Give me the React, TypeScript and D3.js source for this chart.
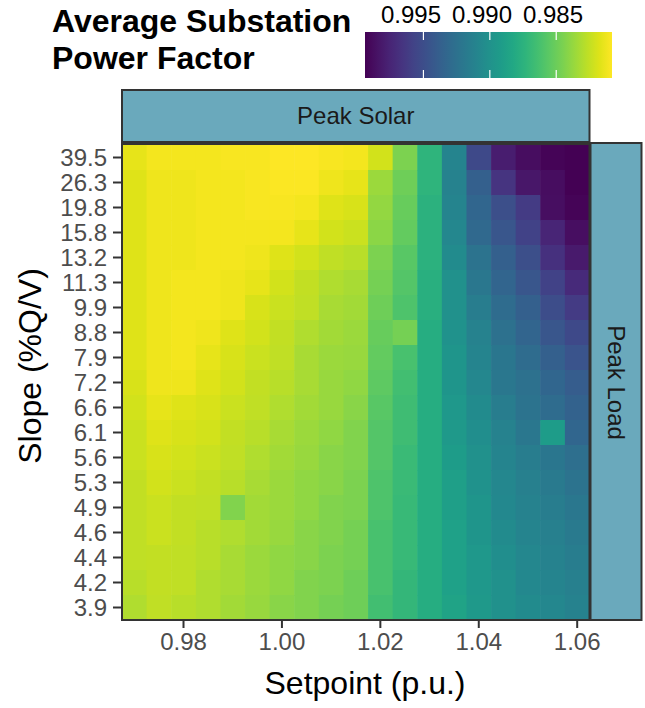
import React from "react";
import * as d3 from "d3";

// Setpoint (p.u.) for each heatmap column
const SETPOINTS = [
  0.97, 0.975, 0.98, 0.985, 0.99, 0.995, 1.0, 1.005, 1.01, 1.015,
  1.02, 1.025, 1.03, 1.035, 1.04, 1.045, 1.05, 1.055, 1.06,
];

// Slope (%Q/V) for each heatmap row, top to bottom
const SLOPES = [
  "39.5", "26.3", "19.8", "15.8", "13.2", "11.3", "9.9", "8.8", "7.9", "7.2",
  "6.6", "6.1", "5.6", "5.3", "4.9", "4.6", "4.4", "4.2", "3.9",
];

// Average substation power factor, one row per slope (same order as SLOPES)
const PF_VALUES = [
  [0.9815, 0.9811, 0.9811, 0.9811, 0.981, 0.981, 0.9808, 0.9808, 0.981, 0.9811, 0.9821, 0.9845, 0.9873, 0.991, 0.9953, 0.9979, 0.9988, 0.9992, 0.9994],
  [0.9817, 0.9813, 0.9813, 0.9811, 0.9811, 0.981, 0.9809, 0.9809, 0.9813, 0.9815, 0.9836, 0.9849, 0.9873, 0.9912, 0.9938, 0.9966, 0.9983, 0.9988, 0.9994],
  [0.9817, 0.9813, 0.9813, 0.9811, 0.9811, 0.981, 0.981, 0.9811, 0.9817, 0.9819, 0.9838, 0.9851, 0.9875, 0.991, 0.9933, 0.9949, 0.9962, 0.9987, 0.9992],
  [0.9817, 0.9813, 0.9813, 0.9811, 0.9811, 0.9811, 0.9811, 0.9815, 0.9821, 0.9823, 0.984, 0.9853, 0.9875, 0.9908, 0.9931, 0.9944, 0.9957, 0.9975, 0.9987],
  [0.9817, 0.9813, 0.9813, 0.9811, 0.9811, 0.9813, 0.9817, 0.9821, 0.9826, 0.9828, 0.9845, 0.9856, 0.9875, 0.9905, 0.9923, 0.9938, 0.9949, 0.9968, 0.9981],
  [0.9817, 0.9813, 0.9811, 0.9811, 0.9813, 0.9815, 0.9821, 0.9825, 0.983, 0.9832, 0.9847, 0.9858, 0.9877, 0.9901, 0.992, 0.9934, 0.9944, 0.9957, 0.9972],
  [0.9817, 0.9813, 0.9811, 0.9811, 0.9813, 0.9819, 0.9823, 0.9826, 0.9832, 0.9834, 0.9849, 0.986, 0.9877, 0.9901, 0.9916, 0.9929, 0.9938, 0.9951, 0.9962],
  [0.9817, 0.9813, 0.9811, 0.9813, 0.9817, 0.9821, 0.9825, 0.983, 0.9834, 0.9836, 0.9851, 0.9847, 0.9879, 0.9899, 0.9912, 0.9925, 0.9934, 0.9944, 0.9953],
  [0.9817, 0.9813, 0.9811, 0.9815, 0.9819, 0.9823, 0.9826, 0.9832, 0.9836, 0.9837, 0.9853, 0.9862, 0.9879, 0.9897, 0.991, 0.9921, 0.9929, 0.9938, 0.9946],
  [0.9819, 0.9813, 0.9813, 0.9817, 0.9821, 0.9825, 0.9828, 0.9832, 0.9837, 0.9839, 0.9854, 0.9864, 0.9879, 0.9897, 0.9908, 0.992, 0.9925, 0.9933, 0.994],
  [0.9821, 0.9815, 0.9817, 0.9819, 0.9823, 0.9826, 0.983, 0.9834, 0.9837, 0.9841, 0.9856, 0.9866, 0.9879, 0.9895, 0.9905, 0.9916, 0.9923, 0.9929, 0.9936],
  [0.9823, 0.9817, 0.9819, 0.9821, 0.9825, 0.9828, 0.9832, 0.9836, 0.9839, 0.9843, 0.9858, 0.9866, 0.9879, 0.9894, 0.9903, 0.9912, 0.992, 0.9892, 0.9933],
  [0.9823, 0.9819, 0.9821, 0.9823, 0.9826, 0.983, 0.9834, 0.9837, 0.9841, 0.9843, 0.9858, 0.9868, 0.9879, 0.9892, 0.9901, 0.991, 0.9916, 0.9921, 0.9927],
  [0.9825, 0.9821, 0.9823, 0.9825, 0.9828, 0.9832, 0.9836, 0.9839, 0.9841, 0.9845, 0.986, 0.9868, 0.9879, 0.989, 0.9899, 0.9908, 0.9914, 0.9918, 0.9923],
  [0.9825, 0.9823, 0.9825, 0.9826, 0.9843, 0.9834, 0.9836, 0.9839, 0.9843, 0.9845, 0.986, 0.9869, 0.9879, 0.989, 0.9897, 0.9907, 0.9912, 0.9916, 0.992],
  [0.9826, 0.9823, 0.9825, 0.9828, 0.983, 0.9834, 0.9837, 0.9841, 0.9843, 0.9847, 0.9862, 0.9869, 0.9879, 0.9888, 0.9897, 0.9905, 0.991, 0.9914, 0.9918],
  [0.9826, 0.9825, 0.9826, 0.9828, 0.9832, 0.9836, 0.9839, 0.9841, 0.9845, 0.9847, 0.9862, 0.9869, 0.9879, 0.9888, 0.9895, 0.9903, 0.9908, 0.9912, 0.9916],
  [0.9828, 0.9825, 0.9826, 0.983, 0.9832, 0.9836, 0.9839, 0.9843, 0.9845, 0.9849, 0.9862, 0.9871, 0.9879, 0.9888, 0.9895, 0.9901, 0.9907, 0.991, 0.9914],
  [0.983, 0.9826, 0.9828, 0.983, 0.9834, 0.9837, 0.9841, 0.9843, 0.9847, 0.9849, 0.9864, 0.9871, 0.9879, 0.9886, 0.9894, 0.9901, 0.9905, 0.9908, 0.9912],
];

const X_TICKS = [0.98, 1.0, 1.02, 1.04, 1.06];
const LEGEND_TICKS = [0.995, 0.99, 0.985];
const PF_LIMITS = [0.9994, 0.9808]; // purple end, yellow end
const STRIP_TOP = "Peak Solar";
const STRIP_RIGHT = "Peak Load";

const FONT = "'Liberation Sans', Arial, Helvetica, sans-serif";

export default function App() {
  const W = 645;
  const H = 708;
  const panel = { x0: 122, x1: 589.5, y0: 145, y1: 620 };
  const half = (SETPOINTS[1] - SETPOINTS[0]) / 2;

  const x = d3
    .scaleLinear()
    .domain([SETPOINTS[0] - half, SETPOINTS[SETPOINTS.length - 1] + half])
    .range([panel.x0, panel.x1]);
  const y = d3.scaleBand<string>().domain(SLOPES).range([panel.y0, panel.y1]);
  const color = d3.scaleSequential(d3.interpolateViridis).domain(PF_LIMITS as [number, number]);

  const legend = { x0: 365, x1: 612, y0: 32, y1: 78 };
  const lx = d3.scaleLinear().domain(PF_LIMITS).range([legend.x0, legend.x1]);
  // label placement scale (labels sit slightly wider apart than the ticks)
  const labelX = d3.scaleLinear().domain([LEGEND_TICKS[0], LEGEND_TICKS[2]]).range([411, 553]);
  const gradStops = d3.range(0, 1.0001, 0.05).map((t) => ({
    offset: t,
    color: color(PF_LIMITS[0] + (PF_LIMITS[1] - PF_LIMITS[0]) * t),
  }));

  const cells: { key: string; x: number; y: number; w: number; h: number; fill: string }[] = [];
  SLOPES.forEach((s, ri) => {
    SETPOINTS.forEach((sp, ci) => {
      const x0 = x(sp - half);
      const x1 = x(sp + half);
      cells.push({
        key: `${ri}-${ci}`,
        x: x0,
        y: y(s) as number,
        w: x1 - x0 + 0.6,
        h: y.bandwidth() + 0.6,
        fill: color(PF_VALUES[ri][ci]) as string,
      });
    });
  });

  const stripFill = "#6aa9bc";
  const border = "#333333";

  return (
    <svg
      width={W}
      height={H}
      style={{ position: "absolute", left: 0, top: 0, background: "#fff" }}
      fontFamily={FONT}
    >
      <defs>
        <linearGradient id="pfgrad" x1="0" x2="1" y1="0" y2="0">
          {gradStops.map((s, i) => (
            <stop key={i} offset={s.offset} stopColor={s.color as string} />
          ))}
        </linearGradient>
      </defs>

      {/* Legend title */}
      <text x={52} y={32} fontSize={32} fontWeight="bold" fill="#000">
        Average Substation
      </text>
      <text x={52} y={69} fontSize={32} fontWeight="bold" fill="#000">
        Power Factor
      </text>

      {/* Colorbar */}
      <rect
        x={legend.x0}
        y={legend.y0}
        width={legend.x1 - legend.x0}
        height={legend.y1 - legend.y0}
        fill="url(#pfgrad)"
      />
      {LEGEND_TICKS.map((t) => (
        <g key={t}>
          <line x1={lx(t)} x2={lx(t)} y1={legend.y0} y2={legend.y0 + 8} stroke="#fff" strokeWidth={1.2} />
          <line x1={lx(t)} x2={lx(t)} y1={legend.y1 - 8} y2={legend.y1} stroke="#fff" strokeWidth={1.2} />
          <text x={labelX(t)} y={23} fontSize={24} textAnchor="middle" fill="#000">
            {t.toFixed(3)}
          </text>
        </g>
      ))}

      {/* Top strip */}
      <rect x={panel.x0} y={90} width={panel.x1 - panel.x0} height={52} fill={stripFill} stroke={border} strokeWidth={2} />
      <text x={(panel.x0 + panel.x1) / 2} y={124} fontSize={24} textAnchor="middle" fill="#1a1a1a">
        {STRIP_TOP}
      </text>

      {/* Heatmap cells */}
      <g>
        {cells.map((c) => (
          <rect key={c.key} x={c.x} y={c.y} width={c.w} height={c.h} fill={c.fill} />
        ))}
      </g>
      <rect
        x={panel.x0}
        y={panel.y0 - 1}
        width={panel.x1 - panel.x0}
        height={panel.y1 - panel.y0 + 1}
        fill="none"
        stroke={border}
        strokeWidth={2}
      />

      {/* Right strip */}
      <rect x={panel.x1 + 1} y={panel.y0 - 2} width={51} height={panel.y1 - panel.y0 + 2} fill={stripFill} stroke={border} strokeWidth={2} />
      <text
        transform={`translate(${panel.x1 + 26.5},${(panel.y0 + panel.y1) / 2}) rotate(90)`}
        fontSize={24}
        textAnchor="middle"
        dy="0.35em"
        fill="#1a1a1a"
      >
        {STRIP_RIGHT}
      </text>

      {/* Y axis */}
      {SLOPES.map((s) => {
        const cy = (y(s) as number) + y.bandwidth() / 2;
        return (
          <g key={s}>
            <line x1={113} x2={121} y1={cy} y2={cy} stroke={border} strokeWidth={2} />
            <text x={107} y={cy} dy="0.36em" fontSize={24} textAnchor="end" fill="#4d4d4d">
              {s}
            </text>
          </g>
        );
      })}

      {/* X axis */}
      {X_TICKS.map((t) => (
        <g key={t}>
          <line x1={x(t)} x2={x(t)} y1={panel.y1 + 1} y2={panel.y1 + 8} stroke={border} strokeWidth={2} />
          <text x={x(t)} y={650} fontSize={24} textAnchor="middle" fill="#4d4d4d">
            {t.toFixed(2)}
          </text>
        </g>
      ))}

      {/* Axis titles */}
      <text x={365} y={694} fontSize={32} textAnchor="middle" fill="#000">
        Setpoint (p.u.)
      </text>
      <text transform={`translate(41,366) rotate(-90)`} fontSize={32} textAnchor="middle" fill="#000">
        Slope (%Q/V)
      </text>
    </svg>
  );
}
